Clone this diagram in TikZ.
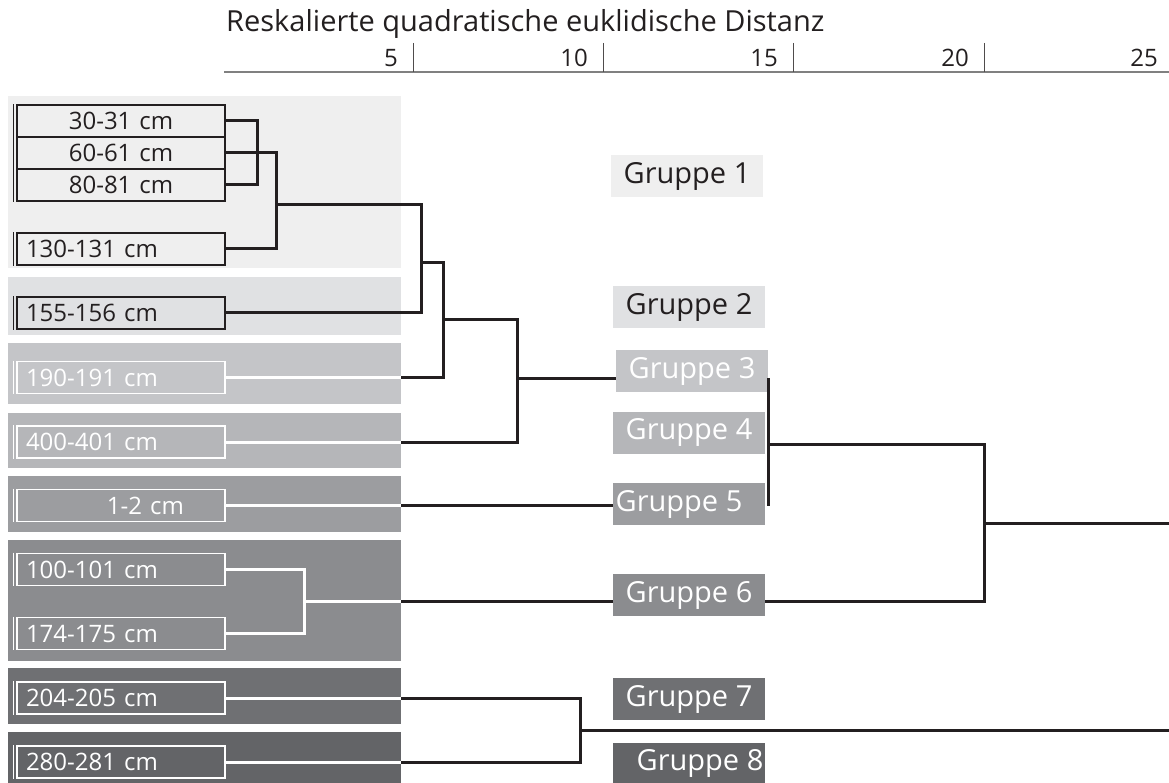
\documentclass[tikz,border=0pt]{standalone}
\usepackage{fontspec}
\setmainfont{Open Sans}
\usepackage{xcolor}
\usepackage{tikz}
\definecolor{ink}{HTML}{231F20}
\definecolor{band1}{HTML}{EFEFEF}
\definecolor{band2}{HTML}{E0E1E3}
\definecolor{band3}{HTML}{C4C5C8}
\definecolor{band4}{HTML}{B5B6B9}
\definecolor{band5}{HTML}{9C9DA0}
\definecolor{band6}{HTML}{8B8C8F}
\definecolor{band7}{HTML}{6F7073}
\definecolor{band8}{HTML}{636467}
\newcommand{\labfont}{\fontsize{24}{28}\selectfont}
\newcommand{\grpfont}{\fontsize{29}{34}\selectfont}
\newcommand{\ttlfont}{\fontsize{29}{33}\selectfont}

\begin{document}
\begin{tikzpicture}[x=1pt, y=-1pt,
    lab/.style={draw=ink, text=ink, line width=1.8pt, minimum width=208pt, minimum height=32pt,
                inner sep=0pt, text width=190pt, align=left, font=\labfont},
    labw/.style={lab, draw=white, text=white},
    grp/.style={fill=#1, text=white, minimum width=152pt, minimum height=42pt, inner sep=0pt, font=\grpfont},
    bline/.style={draw=ink, line width=3pt},
    wline/.style={draw=white, line width=3pt},
    dbar/.style={draw=ink, line width=1.6pt},
    wbar/.style={draw=white, line width=1.6pt},
    txt/.style={inner sep=0pt, text=ink}]
    \useasboundingbox (0,0) rectangle (1169,783);
    \node[txt, anchor=base west, font=\ttlfont] (title) at (226,32) {Reskalierte quadratische euklidische Distanz};
    \draw[gray, line width=2pt] (224,72) -- (1169,72);
    \foreach \v/\x in {5/413,10/603,15/793,20/984} {
        \draw[ink!80, line width=1pt] (\x,43) -- (\x,72);
        \node[txt, anchor=base east, font=\labfont] (n\v) at (\x-15,67) {\v};
    }
    \node[txt, anchor=base east, font=\labfont] (n25) at (1158,67) {25};
    \foreach \c/\t/\b in {band1/96/268, band2/277/335, band3/343/404, band4/413/468,
                          band5/476/532, band6/540/661, band7/668/724, band8/732/783}
        \fill[\c] (8,\t) rectangle (401,\b);
    \node[lab, align=center] (l1) at (121,121) {30-31 cm};
    \node[lab, align=center] (l2) at (121,153) {60-61 cm};
    \node[lab, align=center] (l3) at (121,185) {80-81 cm};
    \node[lab] (l4) at (121,249) {130-131 cm};
    \node[lab] (l5) at (121,313) {155-156 cm};
    \node[labw] (l6) at (121,377.5) {190-191 cm};
    \node[labw] (l7) at (121,442) {400-401 cm};
    \node[labw] (l8) at (121,505.5) {\hspace*{81pt}1-2 cm};
    \node[labw] (l9) at (121,569.5) {100-101 cm};
    \node[labw] (l10) at (121,633.5) {174-175 cm};
    \node[labw] (l11) at (121,698) {204-205 cm};
    \node[labw] (l12) at (121,762) {280-281 cm};
    \draw[dbar] ([xshift=-2.5pt]l1.north west) -- ([xshift=-2.5pt]l3.south west);
    \foreach \n in {l4,l5}
        \draw[dbar] ([xshift=-2.5pt]\n.north west) -- ([xshift=-2.5pt]\n.south west);
    \foreach \n in {l6,l7,l8,l9,l10,l11,l12}
        \draw[wbar] ([xshift=-2.5pt]\n.north west) -- ([xshift=-2.5pt]\n.south west);
    \node[grp=band1, text=ink] (g1) at (687,176) {Gruppe 1};
    \node[grp=band2, text=ink] (g2) at (689,307) {Gruppe 2};
    \node[grp=band3] (g3) at (692,371) {Gruppe 3};
    \node[grp=band4] (g4) at (689,432.5) {Gruppe 4};
    \node[grp=band5] (g5) at (689,504) {\hspace*{-20pt}Gruppe 5};
    \node[grp=band6] (g6) at (689,595) {Gruppe 6};
    \node[grp=band7] (g7) at (689,699) {Gruppe 7};
    \node[grp=band8, minimum height=40pt] (g8) at (689,763) {\hspace*{22pt}Gruppe 8};
    \coordinate (edge) at (401,0);
    \coordinate (rim) at (1169,0);
    \coordinate (k1) at (257,153);
    \coordinate (k2) at (276,205);
    \coordinate (k3) at (421,263);
    \coordinate (k4) at (443,320);
    \coordinate (k5) at (517,378);
    \coordinate (k6) at (304,601);
    \coordinate (k7) at (580,730);
    \coordinate (k8) at (768,444);
    \coordinate (k9) at (984,523);
    \draw[bline] (l1.east) -| (k1) |- (l3.east);
    \draw[bline] (l2.east) -- (k1) -| (k2) |- (l4.east);
    \draw[bline] (k2) -| (k3) |- (l5.east);
    \draw[bline] (k3) -| (k4) |- (l6.east);
    \draw[bline] (k4) -| (k5) |- (l7.east);
    \draw[bline] (k5) -- (k5 -| g3.west);
    \draw[bline] (l8.east) -- (l8.east -| g5.west);
    \draw[wline] (l9.east) -| (k6) |- (l10.east);
    \draw[wline] (k6) -- (k6 -| edge);
    \draw[bline] (k6 -| edge) -- (k6 -| g6.west);
    \draw[bline] (l11.east) -| (k7) |- (l12.east);
    \draw[bline] (k7) -- (k7 -| rim);
    % white inside the bands
    \foreach \n in {l6,l7,l8,l11,l12}
        \draw[wline] (\n.east) -- (\n.east -| edge);
    \draw[bline] (k8 |- k5) -- (k8 |- l8.east);
    \draw[bline] (k8) -| (k9) |- (k6 -| g6.east);
    \draw[bline] (k9) -- (k9 -| rim);
\end{tikzpicture}
\end{document}
